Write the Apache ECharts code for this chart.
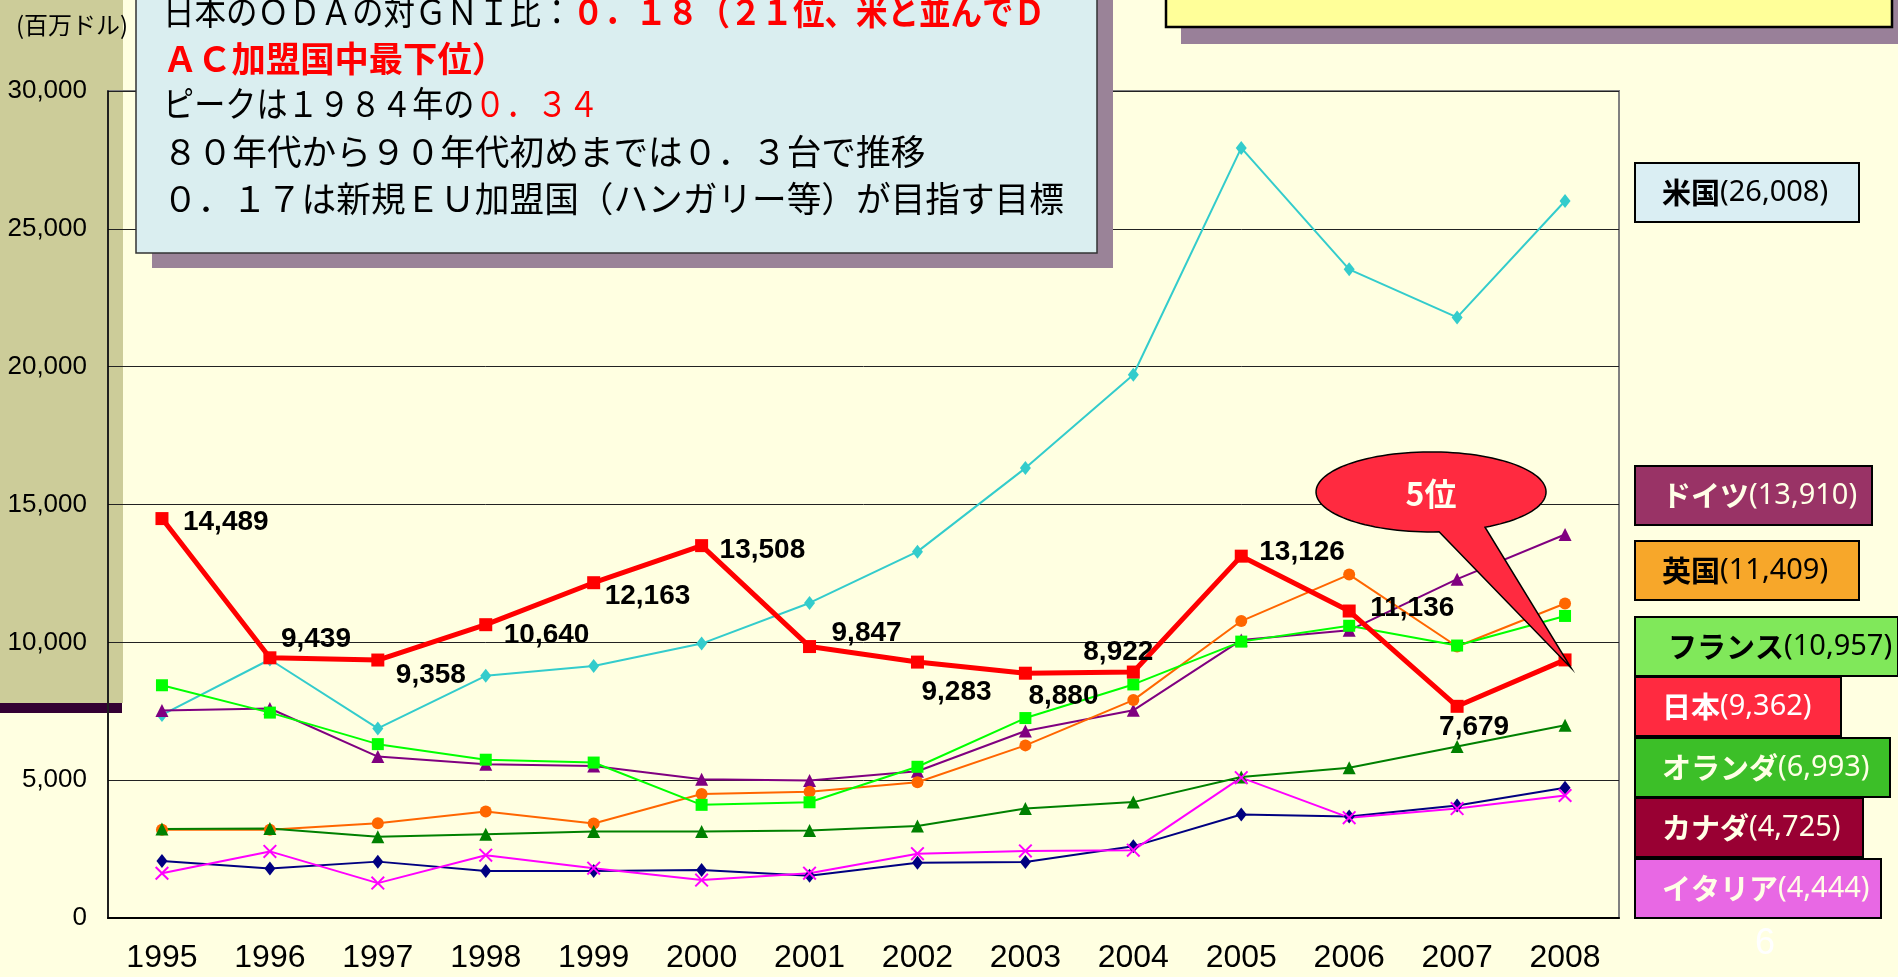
<!DOCTYPE html>
<html>
<head>
<meta charset="utf-8">
<script src="https://cdn.jsdelivr.net/npm/echarts@6/dist/echarts.min.js"></script>
<style>
html, body { margin: 0; padding: 0; background: #FFFFE1; }
#chart { width: 1898px; height: 977px; }
</style>
</head>
<body>
<div id="chart"></div>
<script>
// ODA 実績 (百万ドル)
const years = ['1995', '1996', '1997', '1998', '1999', '2000', '2001', '2002', '2003', '2004', '2005', '2006', '2007', '2008'];
const usa = [7367, 9377, 6878, 8786, 9145, 9955, 11429, 13290, 16320, 19705, 27935, 23532, 21787, 26008];
const germany = [7524, 7601, 5857, 5581, 5515, 5030, 4990, 5324, 6784, 7534, 10082, 10435, 12291, 13910];
const uk = [3202, 3199, 3433, 3864, 3426, 4501, 4579, 4924, 6262, 7905, 10772, 12459, 9849, 11409];
const france = [8443, 7451, 6307, 5742, 5639, 4105, 4198, 5486, 7253, 8473, 10026, 10601, 9884, 10957];
const netherlands = [3226, 3246, 2947, 3042, 3134, 3135, 3172, 3338, 3972, 4204, 5115, 5452, 6224, 6993];
const canada = [2067, 1795, 2045, 1707, 1706, 1744, 1533, 2004, 2031, 2599, 3756, 3684, 4080, 4725];
const italy = [1623, 2416, 1266, 2278, 1806, 1376, 1627, 2332, 2433, 2462, 5091, 3641, 3971, 4444];
const japan = [14489, 9439, 9358, 10640, 12163, 13508, 9847, 9283, 8880, 8922, 13126, 11136, 7679, 9362];
const yTicks = [0, 5000, 10000, 15000, 20000, 25000, 30000];

const fmt = v => v.toLocaleString('en-US');
const jpFont = '"Noto Sans CJK JP", sans-serif';
const numFont = '"Liberation Sans", Arial, sans-serif';

// 日本の値ラベルの置き場所 (点からのずれ)
const jpLabelPos = [
  [21, 4, 'left'], [11, -19, 'left'], [18, 15, 'left'], [18, 11, 'left'], [11, 14, 'left'],
  [18, 5, 'left'], [22, -13, 'left'], [4, 30, 'left'], [3, 23, 'left'], [-15, -20, 'center'],
  [18, -4, 'left'], [21, -3, 'left'], [17, 21, 'center'], null
];

const xMark = 'path://M0,1L1,0L5,4L9,0L10,1L6,5L10,9L9,10L5,6L1,10L0,9L4,5Z';

const lines = [
  { name: '米国', data: usa, color: '#33CCCC', symbol: 'diamond', size: [11, 14] },
  { name: 'ドイツ', data: germany, color: '#800080', symbol: 'triangle', size: 13 },
  { name: '英国', data: uk, color: '#FF6600', symbol: 'circle', size: 12 },
  { name: 'フランス', data: france, color: '#00FF00', symbol: 'rect', size: 12 },
  { name: 'オランダ', data: netherlands, color: '#008000', symbol: 'triangle', size: 13 },
  { name: 'カナダ', data: canada, color: '#000080', symbol: 'diamond', size: [11, 14] },
  { name: 'イタリア', data: italy, color: '#FF00FF', symbol: xMark, size: 14 }
];

const series = lines.map(s => ({
  name: s.name,
  type: 'line',
  data: s.data,
  symbol: s.symbol,
  symbolSize: s.size,
  lineStyle: { color: s.color, width: 2 },
  itemStyle: { color: s.color },
  animation: false,
  z: 2
}));

series.push({
  name: '日本',
  type: 'line',
  data: japan.map((v, i) => {
    const pos = jpLabelPos[i];
    if (!pos) return { value: v, label: { show: false } };
    return {
      value: v,
      label: {
        show: true,
        position: 'inside',
        align: pos[2],
        verticalAlign: 'middle',
        offset: [pos[0], pos[1]],
        formatter: d => fmt(d.value)
      }
    };
  }),
  symbol: 'rect',
  symbolSize: 13,
  lineStyle: { color: '#FF0000', width: 5 },
  itemStyle: { color: '#FF0000' },
  label: { color: '#000', fontFamily: numFont, fontWeight: 'bold', fontSize: 28 },
  animation: false,
  z: 3
});

const chart = echarts.init(document.getElementById('chart'));
chart.setOption({
  backgroundColor: '#FFFFE1',
  animation: false,
  grid: {
    left: 108, right: 279, top: 91, bottom: 59,
    show: true, borderColor: '#808080', borderWidth: 2, backgroundColor: 'transparent'
  },
  xAxis: {
    type: 'category',
    data: years,
    boundaryGap: true,
    axisLine: { lineStyle: { color: '#000', width: 2 } },
    axisTick: { inside: true, length: 10, lineStyle: { color: '#000', width: 1 } },
    axisLabel: { color: '#000', fontFamily: numFont, fontSize: 32, margin: 24 },
    splitLine: { show: false }
  },
  yAxis: {
    type: 'value',
    min: yTicks[0],
    max: yTicks[yTicks.length - 1],
    interval: yTicks[1] - yTicks[0],
    axisLine: { show: true, lineStyle: { color: '#000', width: 1.5 } },
    axisTick: { show: false },
    axisLabel: { color: '#000', fontFamily: numFont, fontSize: 26, margin: 21, formatter: v => fmt(v) },
    splitLine: { show: true, lineStyle: { color: '#222', width: 1 } }
  },
  series: series
});

// 右側の国名ボックス
const boxes = [
  { name: '米国', value: usa, fill: '#DAEEF3', text: '#000', top: 163, width: 224 },
  { name: 'ドイツ', value: germany, fill: '#993366', text: '#FFFFE6', top: 466, width: 237 },
  { name: '英国', value: uk, fill: '#F7A72A', text: '#000', top: 541, width: 224 },
  { name: 'フランス', value: france, fill: '#80E85A', text: '#000', top: 617, width: 263, pad: 33 },
  { name: '日本', value: japan, fill: '#FF2A40', text: '#FFFFFF', top: 677, width: 206 },
  { name: 'オランダ', value: netherlands, fill: '#3CBF28', text: '#FFFFE6', top: 738, width: 255 },
  { name: 'カナダ', value: canada, fill: '#990033', text: '#FFFFE6', top: 798, width: 228 },
  { name: 'イタリア', value: italy, fill: '#E868E4', text: '#FFFFE6', top: 859, width: 246 }
];

const g = [];
g.push({ type: 'rect', z: -5, shape: { x: 0, y: 0, width: 123, height: 703 }, style: { fill: '#CCCC99' } });
g.push({ type: 'rect', z: -5, shape: { x: 0, y: 703, width: 122, height: 10 }, style: { fill: '#330033' } });
g.push({ type: 'text', z: 5, x: 16, y: 25, style: { text: '(百万ドル)', fill: '#000', font: '24px ' + jpFont, verticalAlign: 'middle' } });

// 上部のボックス
g.push({ type: 'rect', z: 50, shape: { x: 1181, y: 0, width: 717, height: 44 }, style: { fill: '#998099' } });
g.push({ type: 'rect', z: 51, shape: { x: 1166, y: -5, width: 726, height: 32 }, style: { fill: '#FFFF99', stroke: '#000', lineWidth: 2.5 } });
g.push({ type: 'rect', z: 50, shape: { x: 152, y: 0, width: 961, height: 268 }, style: { fill: '#9A8398' } });
g.push({ type: 'rect', z: 51, shape: { x: 136, y: -5, width: 961, height: 258 }, style: { fill: '#DAEEF0', stroke: '#333', lineWidth: 1.5 } });

const boxLines = [
  { y: 12, text: '{k|日本のＯＤＡの対ＧＮＩ比：}{r|０．１８（２１位、米と並んでＤ}', sx: 0.9 },
  { y: 59, text: '{r|ＡＣ加盟国中最下位）}', sx: 0.98 },
  { y: 104, text: '{k|ピークは１９８４年の}{rn|０．３４}', sx: 0.89 },
  { y: 152, text: '{k|８０年代から９０年代初めまでは０．３台で推移}', sx: 0.99 },
  { y: 199, text: '{k|０．１７は新規ＥＵ加盟国（ハンガリー等）が目指す目標}', sx: 0.99 }
];
boxLines.forEach(l => {
  g.push({
    type: 'text', z: 52, x: 163, y: l.y, scaleX: l.sx,
    style: {
      text: l.text,
      verticalAlign: 'middle',
      rich: {
        k: { fill: '#000', fontSize: 35, fontFamily: jpFont, fontWeight: 'normal' },
        r: { fill: '#FF0000', fontSize: 35, fontFamily: jpFont, fontWeight: 'bold' },
        rn: { fill: '#FF0000', fontSize: 35, fontFamily: jpFont, fontWeight: 'normal' }
      }
    }
  });
});

boxes.forEach(b => {
  g.push({ type: 'rect', z: 20, shape: { x: 1635, y: b.top, width: b.width, height: 59 }, style: { fill: b.fill, stroke: '#000', lineWidth: 2 } });
  g.push({
    type: 'text', z: 21, x: 1635 + (b.pad || 27), y: b.top + 30,
    style: {
      text: '{n|' + b.name + '}{v|(' + fmt(b.value[b.value.length - 1]) + ')}',
      verticalAlign: 'middle',
      rich: {
        n: { fill: b.text, fontSize: 29, fontFamily: jpFont, fontWeight: 'bold' },
        v: { fill: b.text, fontSize: 29, fontFamily: '"Noto Sans", sans-serif', fontWeight: 'normal' }
      }
    }
  });
});

g.push({ type: 'text', z: 5, x: 1765, y: 944, style: { text: '6', fill: '#FFFFFF', font: '36px ' + numFont, align: 'center', verticalAlign: 'middle' } });

// 吹き出し「5位」: 日本の2008年の点を指す
const last = japan.length - 1;
const p = chart.convertToPixel({ seriesIndex: series.length - 1 }, [last, japan[last]]);
const cx = p[0] - 134, cy = p[1] - 168, rx = 115, ry = 40;
const pts = [];
for (let a = 86; a <= 423; a += 3) {
  const t = a * Math.PI / 180;
  pts.push([cx + rx * Math.cos(t), cy + ry * Math.sin(t)]);
}
pts.push([p[0] + 6, p[1] + 8]);
g.push({ type: 'polygon', z: 60, shape: { points: pts }, style: { fill: '#FF2A40', stroke: '#000', lineWidth: 1.5 } });
g.push({ type: 'text', z: 61, x: cx, y: cy + 2, style: { text: '5位', fill: '#FFFFF0', font: 'bold 32px ' + jpFont, align: 'center', verticalAlign: 'middle' } });

chart.setOption({ graphic: { elements: g } });
</script>
</body>
</html>
